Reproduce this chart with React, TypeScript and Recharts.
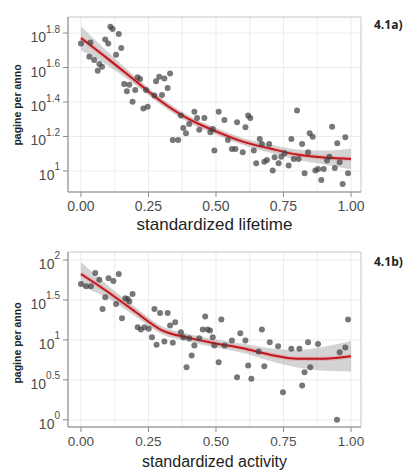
import React from "react";
import {
  ComposedChart,
  Scatter,
  Line,
  Area,
  XAxis,
  YAxis,
  CartesianGrid,
  ReferenceArea,
} from "recharts";

// values are log10(pagine per anno)
const lifetimeX = [
  0.0, 0.035, 0.031, 0.049, 0.062, 0.068, 0.078, 0.09, 0.101, 0.109, 0.117, 0.14, 0.13, 0.149,
  0.16, 0.17, 0.179, 0.191, 0.201, 0.21, 0.219, 0.231, 0.247, 0.241, 0.272, 0.278, 0.29, 0.309,
  0.3, 0.321, 0.33, 0.34, 0.36, 0.37, 0.379, 0.389, 0.401, 0.42, 0.43, 0.438, 0.457, 0.479,
  0.494, 0.488, 0.51, 0.531, 0.544, 0.559, 0.572, 0.578, 0.599, 0.609, 0.619, 0.627, 0.64,
  0.649, 0.662, 0.67, 0.679, 0.689, 0.697, 0.71, 0.717, 0.732, 0.742, 0.754, 0.769, 0.779,
  0.788, 0.8, 0.806, 0.819, 0.828, 0.841, 0.847, 0.858, 0.868, 0.878, 0.89, 0.899, 0.911,
  0.92, 0.93, 0.94, 0.949, 0.958, 0.969, 0.979, 0.989,
];
const lifetimeY = [
  1.74, 1.745, 1.663, 1.643, 1.581, 1.62, 1.605, 1.763, 1.74, 1.837, 1.823, 1.794, 1.674, 1.713,
  1.504, 1.462, 1.5, 1.402, 1.47, 1.543, 1.533, 1.363, 1.373, 1.47, 1.437, 1.52, 1.547, 1.537,
  1.441, 1.481, 1.566, 1.18, 1.18, 1.321, 1.249, 1.219, 1.272, 1.344, 1.307, 1.239, 1.307, 1.224,
  1.118, 1.243, 1.344, 1.296, 1.18, 1.128, 1.128, 1.282, 1.108, 1.253, 1.321, 1.307, 1.118,
  1.045, 1.186, 1.157, 1.054, 1.064, 1.157, 1.002, 1.079, 1.045, 1.083, 1.103, 1.031, 1.186,
  1.07, 1.35, 1.07, 1.157, 0.987, 1.108, 1.219, 1.199, 1.002, 1.012, 0.948, 1.012, 1.06,
  1.083, 1.257, 1.017, 1.161, 1.05, 0.925, 1.195, 0.987,
];

const activityX = [
  0.0, 0.019, 0.037, 0.053, 0.068, 0.08, 0.09, 0.102, 0.12, 0.14, 0.13, 0.152, 0.164, 0.173,
  0.179, 0.191, 0.21, 0.222, 0.235, 0.251, 0.263, 0.272, 0.28, 0.293, 0.309, 0.321, 0.33, 0.34,
  0.349, 0.37, 0.379, 0.391, 0.401, 0.41, 0.42, 0.438, 0.451, 0.46, 0.469, 0.478, 0.488, 0.494,
  0.51, 0.52, 0.532, 0.559, 0.578, 0.59, 0.609, 0.619, 0.631, 0.658, 0.67, 0.679, 0.699, 0.73,
  0.748, 0.779, 0.809, 0.819, 0.828, 0.841, 0.849, 0.878, 0.948, 0.958, 0.979, 0.989,
];
const activityY = [
  1.7, 1.671, 1.671, 1.838, 1.754, 1.388, 1.533, 1.771, 1.738, 1.825, 1.45, 1.271, 1.521, 1.513,
  1.479, 1.575, 1.158, 1.129, 1.158, 1.138, 1.033, 1.388, 0.938, 1.338, 0.979, 1.338, 1.179, 0.963,
  1.221, 1.096, 1.033, 0.658, 1.021, 0.804, 0.929, 1.021, 1.129, 1.292, 1.129, 1.117, 1.033, 0.929,
  0.721, 1.254, 0.929, 0.992, 0.533, 1.083, 0.992, 0.679, 0.513, 0.854, 1.129, 0.671, 0.971, 0.921,
  0.346, 0.888, 0.888, 0.429, 0.596, 0.971, 0.658, 0.95, 0.0, 0.846, 0.904, 1.254,
];

// smoother
const fitX = [0, 0.1, 0.2, 0.3, 0.4, 0.5, 0.6, 0.7, 0.8, 0.9, 1];
const lifetimeFit = [1.771, 1.65, 1.525, 1.4, 1.3, 1.23, 1.17, 1.13, 1.095, 1.078, 1.07];
const lifetimeLo = [1.7, 1.61, 1.5, 1.38, 1.28, 1.21, 1.15, 1.105, 1.065, 1.038, 1.01];
const lifetimeHi = [1.84, 1.69, 1.55, 1.42, 1.32, 1.25, 1.19, 1.155, 1.125, 1.118, 1.13];
const activityFit = [1.825, 1.6, 1.355, 1.12, 1.025, 0.955, 0.895, 0.815, 0.765, 0.765, 0.795];
const activityLo = [1.675, 1.52, 1.295, 1.07, 0.975, 0.905, 0.835, 0.735, 0.655, 0.615, 0.605];
const activityHi = [1.975, 1.68, 1.415, 1.17, 1.075, 1.005, 0.955, 0.895, 0.875, 0.915, 0.985];

const xTicks = [0, 0.25, 0.5, 0.75, 1];
const xGrid = [0, 0.125, 0.25, 0.375, 0.5, 0.625, 0.75, 0.875, 1];
const lifetimeTicks = [1, 1.2, 1.4, 1.6, 1.8];
const lifetimeGrid = [0.9, 1, 1.1, 1.2, 1.3, 1.4, 1.5, 1.6, 1.7, 1.8];
const activityTicks = [0, 0.5, 1, 1.5, 2];
const activityGrid = [0, 0.25, 0.5, 0.75, 1, 1.25, 1.5, 1.75, 2];

const FONT = "'Liberation Sans', Arial, sans-serif";
const X_DOMAIN: [number, number] = [-0.048, 1.037];

const LogTick = ({ x, y, payload }: { x: number; y: number; payload: { value: number } }) => (
  <text x={x} y={y} textAnchor="end" fill="#4d4d4d" fontFamily={FONT}>
    <tspan fontSize={14} dy={9}>
      10
    </tspan>
    <tspan fontSize={10} dy={-9.5}>
      {String(payload.value)}
    </tspan>
  </text>
);

const Dot = (p: { cx?: number; cy?: number }) => (
  <circle cx={p.cx} cy={p.cy} r={3} fill="#444" fillOpacity={0.72} />
);

interface PanelProps {
  xs: number[];
  ys: number[];
  fit: number[];
  lo: number[];
  hi: number[];
  yTicks: number[];
  yGrid: number[];
  yDomain: [number, number];
  height: number;
  axisHeight: number;
  title: string;
  titleOffset: number;
  titleSize: number;
  tickSize: number;
}

function Panel({ xs, ys, fit, lo, hi, yTicks, yGrid, yDomain, height, axisHeight, title, titleOffset, titleSize, tickSize }: PanelProps) {
  const points = xs.map((x, i) => ({ x, y: ys[i] }));
  const smooth = fitX.map((x, i) => ({ x, fit: fit[i], band: [lo[i], hi[i]] }));
  return (
    <ComposedChart width={406} height={height} data={smooth} margin={{ top: 17, right: 45, bottom: 0, left: 0 }}>
      <CartesianGrid horizontalValues={yGrid} verticalValues={xGrid} stroke="#ebebeb" strokeWidth={1} />
      <ReferenceArea x1={X_DOMAIN[0]} x2={X_DOMAIN[1]} y1={yDomain[0]} y2={yDomain[1]} fill="none" stroke="#c6c6c6" />
      <XAxis
        type="number"
        dataKey="x"
        domain={X_DOMAIN}
        ticks={xTicks}
        allowDataOverflow
        height={axisHeight}
        tickFormatter={(v: number) => v.toFixed(2)}
        tick={{ fill: "#4d4d4d", fontSize: tickSize, fontFamily: FONT }}
        tickSize={5}
        tickMargin={4}
        stroke="#8c8c8c"
        label={{ value: title, position: "insideBottom", offset: titleOffset, fill: "#222", fontSize: titleSize, fontFamily: FONT }}
      />
      <YAxis
        type="number"
        domain={yDomain}
        ticks={yTicks}
        allowDataOverflow
        width={68}
        tick={LogTick}
        tickSize={5}
        tickMargin={3}
        stroke="#8c8c8c"
      />
      <Scatter data={points} dataKey="y" shape={Dot} isAnimationActive={false} />
      <Area type="monotone" dataKey="band" fill="#999" fillOpacity={0.42} stroke="none" isAnimationActive={false} />
      <Line type="monotone" dataKey="fit" stroke="#e58a8d" strokeOpacity={0.45} strokeWidth={4.5} dot={false} isAnimationActive={false} />
      <Line type="monotone" dataKey="fit" stroke="#c3151c" strokeWidth={2} dot={false} isAnimationActive={false} />
    </ComposedChart>
  );
}

export default function App() {
  return (
    <div style={{ position: "absolute", left: 0, top: 0, width: 406, height: 470, background: "#fff", overflow: "hidden" }}>
      <div style={{ position: "absolute", left: 0, top: 0 }}>
        <Panel
          xs={lifetimeX}
          ys={lifetimeY}
          fit={lifetimeFit}
          lo={lifetimeLo}
          hi={lifetimeHi}
          yTicks={lifetimeTicks}
          yGrid={lifetimeGrid}
          yDomain={[0.878, 1.893]}
          height={235}
          axisHeight={43}
          title="standardized lifetime"
          titleOffset={5}
          titleSize={17}
          tickSize={14}
        />
      </div>
      <div style={{ position: "absolute", left: 0, top: 235 }}>
        <Panel
          xs={activityX}
          ys={activityY}
          fit={activityFit}
          lo={activityLo}
          hi={activityHi}
          yTicks={activityTicks}
          yGrid={activityGrid}
          yDomain={[-0.09, 2.1]}
          height={235}
          axisHeight={43}
          title="standardized activity"
          titleOffset={3}
          titleSize={16}
          tickSize={13.5}
        />
      </div>
      <svg width={406} height={470} style={{ position: "absolute", left: 0, top: 0, pointerEvents: "none" }}>
        <text x={0} y={0} transform="translate(21,105) rotate(-90)" textAnchor="middle" fontFamily={FONT} fontWeight="bold" fontSize={10.5} fill="#222">
          pagine per anno
        </text>
        <text x={0} y={0} transform="translate(21,343) rotate(-90)" textAnchor="middle" fontFamily={FONT} fontWeight="bold" fontSize={10.5} fill="#222">
          pagine per anno
        </text>
        <text x={374} y={29} fontFamily="'Open Sans', sans-serif" fontWeight="bold" fontSize={12} fill="#222">
          4.1a)
        </text>
        <text x={374} y={266} fontFamily="'Open Sans', sans-serif" fontWeight="bold" fontSize={12} fill="#222">
          4.1b)
        </text>
      </svg>
    </div>
  );
}
